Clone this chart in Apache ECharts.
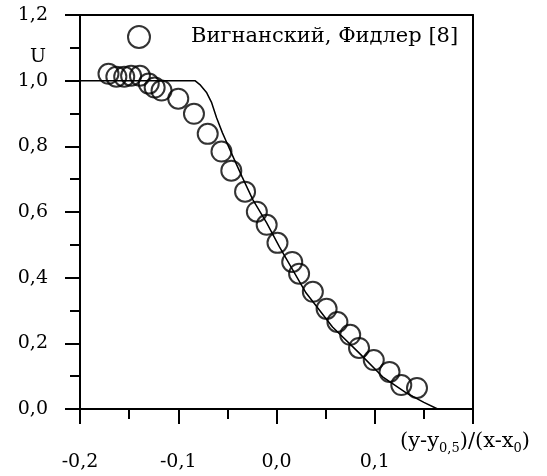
<!DOCTYPE html>
<html>
<head>
	<meta charset="utf-8">
	<title></title>
	<script src="https://cdn.jsdelivr.net/npm/echarts@6/dist/echarts.min.js"></script>
	<style>
		html, body { margin: 0; padding: 0; background: #fff; }
		#box_1 { width: 547px; height: 476px; }
	</style>
</head>
<body>
	<div id="box_1"></div>
<script>
	// опыты (кружки)
	var expX = [-0.171, -0.163, -0.155, -0.148, -0.139, -0.130, -0.124, -0.117, -0.100, -0.084,
		-0.070, -0.056, -0.046, -0.032, -0.020, -0.010, 0.001, 0.016, 0.023, 0.037,
		0.051, 0.062, 0.075, 0.084, 0.099, 0.115, 0.127, 0.143]
	var expU = [1.021, 1.012, 1.012, 1.015, 1.015, 0.991, 0.979, 0.970, 0.945, 0.899,
		0.838, 0.784, 0.726, 0.662, 0.601, 0.561, 0.506, 0.448, 0.412, 0.357,
		0.305, 0.265, 0.226, 0.186, 0.149, 0.113, 0.073, 0.064]
	// расчёт (линия)
	var modelX = [-0.2, -0.083, -0.078, -0.071, -0.066, -0.061, -0.055, -0.051, -0.046, -0.035,
		-0.024, -0.010, 0.003, 0.030, 0.057, 0.084, 0.108, 0.132, 0.150, 0.164]
	var modelU = [1.0, 1.0, 0.988, 0.963, 0.933, 0.887, 0.841, 0.814, 0.780, 0.707,
		0.637, 0.567, 0.494, 0.354, 0.250, 0.171, 0.098, 0.049, 0.020, 0.0]
	var legendName = 'Вигнанский, Фидлер [8]'

	var expData = []
	for (var i = 0; i < expX.length; i++) {
		expData.push([expX[i], expU[i]])
	}
	var modelData = []
	for (var j = 0; j < modelX.length; j++) {
		modelData.push([modelX[j], modelU[j]])
	}

	var font = 'DejaVu Serif'
	var fmt = function (v) {
		return v.toFixed(1).replace('.', ',')
	}

	var myChart = echarts.init(document.getElementById('box_1'))
	var option = {
		animation: false,
		textStyle: { fontFamily: font, color: '#000' },
		grid: { left: 80, right: 74, top: 15, bottom: 67 },
		legend: {
			left: 122,
			top: 20,
			itemWidth: 22,
			itemHeight: 22,
			icon: 'circle',
			data: [{
				name: legendName,
				itemStyle: { color: '#fff', borderColor: '#000', borderWidth: 2 }
			}],
			textStyle: { fontFamily: font, fontSize: 21, color: '#000', padding: [0, 0, 0, 36] }
		},
		xAxis: [{
			type: 'value',
			min: -0.2,
			max: 0.2,
			interval: 0.1,
			name: '(y-y{s|0,5})/(x-x{s|0})',
			nameLocation: 'end',
			nameGap: -73,
			nameTextStyle: {
				fontFamily: font, fontSize: 21, color: '#000',
				align: 'left', verticalAlign: 'top', padding: [20, 0, 0, 0],
				rich: { s: { fontFamily: font, fontSize: 13, verticalAlign: 'bottom', padding: [13, 0, 0, 0] } }
			},
			axisLine: { show: true, onZero: false, lineStyle: { color: '#000', width: 2 } },
			axisTick: { show: true, length: 15, lineStyle: { color: '#000', width: 2 } },
			minorTick: { show: true, splitNumber: 2, length: 10, lineStyle: { color: '#000', width: 2 } },
			axisLabel: {
				margin: 44,
				fontSize: 19,
				color: '#000',
				formatter: function (v) { return v > 0.15 ? '' : fmt(v) }
			},
			splitLine: { show: false }
		}, {
			type: 'value',
			position: 'top',
			min: -0.2,
			max: 0.2,
			axisLine: { show: true, onZero: false, lineStyle: { color: '#000', width: 2 } },
			axisTick: { show: false },
			axisLabel: { show: false },
			splitLine: { show: false }
		}],
		yAxis: [{
			type: 'value',
			min: 0,
			max: 1.2,
			interval: 0.2,
			name: 'U',
			nameLocation: 'end',
			nameGap: -42,
			nameTextStyle: {
				fontFamily: font, fontSize: 19, color: '#000',
				align: 'right', verticalAlign: 'middle', padding: [0, 34, 0, 0]
			},
			axisLine: { show: true, onZero: false, lineStyle: { color: '#000', width: 2 } },
			axisTick: { show: true, length: 15, lineStyle: { color: '#000', width: 2 } },
			minorTick: { show: true, splitNumber: 2, length: 10, lineStyle: { color: '#000', width: 2 } },
			axisLabel: { margin: 32, fontSize: 19, color: '#000', formatter: fmt },
			splitLine: { show: false }
		}, {
			type: 'value',
			position: 'right',
			min: 0,
			max: 1.2,
			axisLine: { show: true, onZero: false, lineStyle: { color: '#000', width: 2 } },
			axisTick: { show: false },
			axisLabel: { show: false },
			splitLine: { show: false }
		}],
		series: [
			{
				name: 'model',
				type: 'line',
				data: modelData,
				showSymbol: false,
				smooth: false,
				lineStyle: { color: '#000', width: 1.5 },
				z: 1
			},
			{
				name: legendName,
				type: 'scatter',
				data: expData,
				symbol: 'circle',
				symbolSize: 20,
				itemStyle: { color: 'rgba(255,255,255,0)', borderColor: '#000', borderWidth: 2 },
				z: 2
			}
		]
	}
	myChart.setOption(option)
</script>
</body>
</html>
